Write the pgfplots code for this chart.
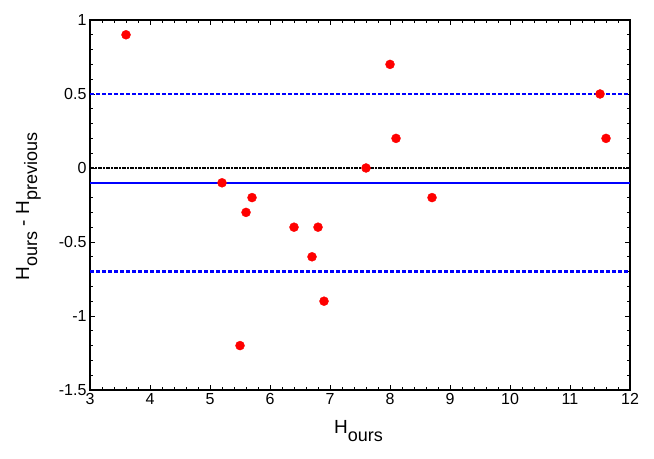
\documentclass[border=0pt]{standalone}
\usepackage{fontspec}
\setmainfont{Liberation Sans}
\usepackage{pgfplots}
\pgfplotsset{compat=1.18}
\newcommand{\sub}[1]{\raisebox{-8pt}{\fontsize{18}{18}\selectfont #1}}
\begin{document}
\begin{tikzpicture}
\begin{axis}[
    scale only axis,
    width=540pt, height=370pt,
    xmin=3, xmax=12, ymin=-1.5, ymax=1,
    xtick={3,4,5,6,7,8,9,10,11,12},
    ytick={-1.5,-1,-0.5,0,0.5,1},
    minor x tick num=4, minor y tick num=4,
    tick align=inside,
    major tick length=5pt, minor tick length=3pt,
    tick style={black, line width=0.8pt},
    axis line style={line width=1.2pt},
    ticklabel style={font=\fontsize{16}{16}\selectfont},
    /pgf/number format/assume math mode=true,
    xlabel={\fontsize{19}{19}\selectfont H\sub{ours}},
    ylabel={\fontsize{19}{19}\selectfont H\sub{ours} - H\sub{previous}},
    xlabel style={at={(axis description cs:0.497,-0.112)}, anchor=center},
    ylabel style={at={(axis description cs:-0.114,0.496)}, anchor=center},
    clip=false,
]
\addplot[blue, line width=2.3pt, dash pattern=on 4pt off 2pt] coordinates {(3,0.5) (12,0.5)};
\addplot[blue, line width=2.3pt, dash pattern=on 4pt off 2pt] coordinates {(3,-0.7) (12,-0.7)};
\addplot[blue, line width=2.4pt] coordinates {(3,-0.1) (12,-0.1)};
\addplot[black, line width=2.2pt, dash pattern=on 3.5pt off 1.5pt on 1.5pt off 1.5pt] coordinates {(3,0) (12,0)};
\addplot[only marks, mark=*, mark size=4.5pt, color=red, mark options={fill=red, draw=red}] coordinates {
    (3.6,0.9) (5.2,-0.1) (5.5,-1.2) (5.6,-0.3) (5.7,-0.2)
    (6.4,-0.4) (6.7,-0.6) (6.8,-0.4) (6.9,-0.9) (7.6,0)
    (8.0,0.7) (8.1,0.2) (8.7,-0.2) (11.5,0.5) (11.6,0.2)
};
\path (rel axis cs:-0.1667,-0.1838) rectangle (rel axis cs:1.0444,1.054);
\end{axis}
\end{tikzpicture}
\end{document}
